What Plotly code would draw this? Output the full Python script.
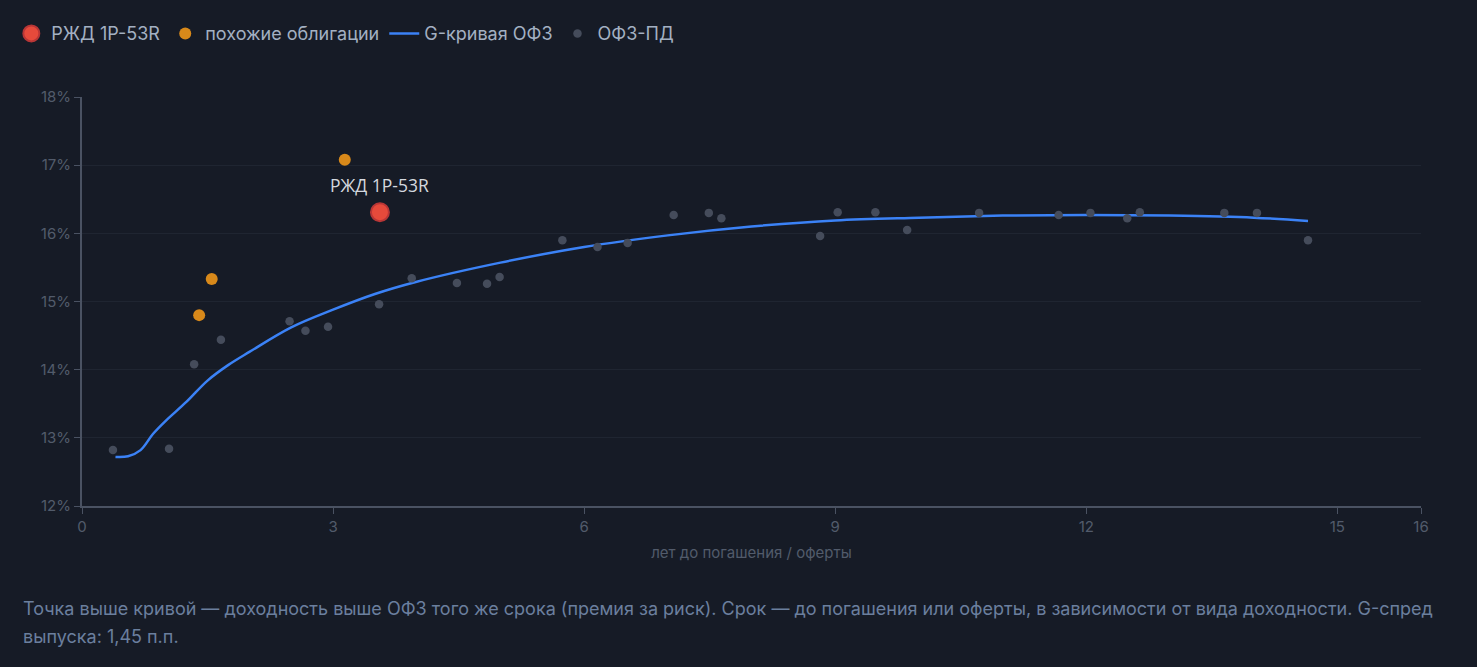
import plotly.graph_objects as go

# ---- data ----
main_name = "РЖД 1P-53R"
main_x = [3.56]
main_y = [16.31]

similar_x = [3.14, 1.55, 1.40]
similar_y = [17.08, 15.33, 14.80]

ofz_x = [0.37, 1.04, 1.34, 1.66, 2.48, 2.67, 2.94, 3.55, 3.94, 4.48, 4.84, 4.99,
         5.74, 6.16, 6.52, 7.07, 7.49, 7.64, 8.82, 9.03, 9.48, 9.86, 10.72,
         11.67, 12.05, 12.49, 12.64, 13.65, 14.04, 14.65]
ofz_y = [12.82, 12.84, 14.08, 14.44, 14.71, 14.57, 14.63, 14.96, 15.34, 15.27, 15.26, 15.36,
         15.90, 15.80, 15.86, 16.27, 16.30, 16.22, 15.96, 16.31, 16.31, 16.05, 16.30,
         16.27, 16.30, 16.22, 16.31, 16.30, 16.30, 15.90]

curve_x = [0.40, 0.55, 0.70, 0.85, 1.0, 1.25, 1.5, 1.75, 2.0, 2.5, 3.0, 3.5, 4.0, 5.0, 6.0, 7.0,
           8.0, 9.0, 10.0, 11.0, 12.0, 13.0, 14.0, 14.65]
curve_y = [12.72, 12.73, 12.82, 13.06, 13.25, 13.53, 13.84, 14.07, 14.26, 14.62, 14.88, 15.11,
           15.29, 15.57, 15.80, 15.97, 16.10, 16.19, 16.23, 16.26, 16.27, 16.26, 16.23, 16.18]

x_ticks = [0, 3, 6, 9, 12, 15, 16]
y_ticks = [12, 13, 14, 15, 16, 17, 18]

footer_lines = [
    "Точка выше кривой — доходность выше ОФЗ того же срока (премия за риск). "
    "Срок — до погашения или оферты, в зависимости от вида доходности. G-спред",
    "выпуска: 1,45 п.п.",
]

BG = "#161b26"
FONT = "Inter, Roboto, sans-serif"

fig = go.Figure()

fig.add_trace(go.Scatter(
    x=main_x, y=main_y, mode="markers", name=main_name,
    marker=dict(size=18, color="#e64a3b", line=dict(color="#b83636", width=2)),
))
fig.add_trace(go.Scatter(
    x=similar_x, y=similar_y, mode="markers", name="похожие облигации",
    marker=dict(size=12, color="#d8891a", line=dict(width=0)),
))
fig.add_trace(go.Scatter(
    x=curve_x, y=curve_y, mode="lines", name="G-кривая ОФЗ",
    line=dict(color="#3b82f6", width=2.5, shape="spline", smoothing=1.0),
))
fig.add_trace(go.Scatter(
    x=ofz_x, y=ofz_y, mode="markers", name="ОФЗ-ПД",
    marker=dict(size=8.5, color="#454c5b", line=dict(width=0)),
))

fig.add_annotation(
    x=main_x[0], y=main_y[0], text=main_name, showarrow=False,
    yshift=27, font=dict(family="Open Sans, sans-serif", size=17.5, color="#d4d8df"),
)

# footer lines (paper y: 0 at pixel 506, plot height 409)
for i, line in enumerate(footer_lines):
    fig.add_annotation(
        xref="paper", yref="paper", x=-0.0455, y=(506 - (608 + 28 * i)) / 409,
        xanchor="left", yanchor="middle",
        text=line, showarrow=False, align="left",
        font=dict(family=FONT, size=18, color="#6b7f9e"),
    )

fig.update_layout(
    width=1477, height=667,
    paper_bgcolor=BG, plot_bgcolor=BG,
    margin=dict(l=81, r=56, t=97, b=161),
    font=dict(family=FONT, color="#5b6475", size=15),
    showlegend=True,
    legend=dict(orientation="h", x=-0.052, y=1.2, xanchor="left", yanchor="top",
                font=dict(family=FONT, size=18, color="#a3b0c2"),
                itemsizing="trace", bgcolor="rgba(0,0,0,0)"),
    xaxis=dict(range=[0, 16], tickvals=x_ticks, ticktext=[str(v) for v in x_ticks],
               showgrid=False, zeroline=False, showline=True, linecolor="#4a5262",
               linewidth=2, ticks="outside", ticklen=6, tickcolor="#4a5262",
               tickfont=dict(size=15, color="#525b6b"),
               title=dict(text="лет до погашения / оферты",
                          font=dict(size=15, color="#525b6b"), standoff=12)),
    yaxis=dict(range=[12, 18], tickvals=y_ticks, ticktext=[f"{v}%" for v in y_ticks],
               showgrid=True, gridcolor="#1f2531", gridwidth=1, zeroline=False,
               showline=True, linecolor="#4a5262", linewidth=2, ticks="outside",
               ticklen=6, tickcolor="#4a5262",
               tickfont=dict(size=15, color="#525b6b")),
)

fig.write_html(
    "out.html",
    config={"displayModeBar": False},
    post_script="document.body.style.margin='0';document.body.style.background='#161b26';",
)
